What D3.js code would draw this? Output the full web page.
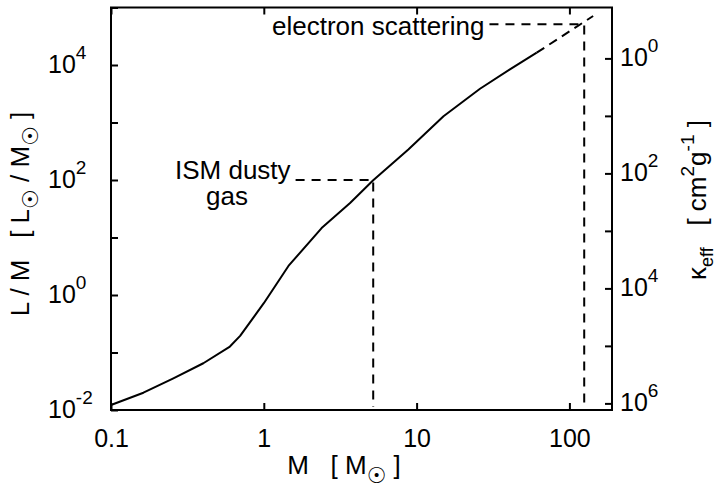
<!DOCTYPE html>
<html>
<head>
<meta charset="utf-8">
<script src="https://cdn.jsdelivr.net/npm/d3@7"></script>
<style>
body { margin: 0; background: #fff; }
svg text { font-family: "Liberation Sans", Arial, Helvetica, sans-serif; fill: #000; }
</style>
</head>
<body>
<div id="chart"></div>
<script>
// mass (M_sun) and L/M (L_sun/M_sun)
var massVals = [0.1, 0.163, 0.256, 0.402, 0.60, 0.70, 1.0, 1.45, 2.39, 3.67, 5.2, 8.83, 15.0, 26.0, 40.8, 61.1];
var lumVals  = [0.0122, 0.020, 0.0355, 0.065, 0.127, 0.195, 0.72, 3.2, 14.6, 39.9, 98.8, 339, 1288, 3864, 8375, 16370];

// dashed extension of the curve
var extMass = [61.1, 143];
var extLum  = [16370, 71100];

// marked opacity limits
var ismMass = 5.2, ismLum = 100;
var esMass = 125, esLum = 50900;

// tick values
var xTicks = [0.1, 1, 10, 100];
var yTickExp = [-2, -1, 0, 1, 2, 3, 4, 5];
var yLabelExp = [-2, 0, 2, 4];
var kTickExp = [0, 1, 2, 3, 4, 5, 6];
var kLabelExp = [0, 2, 4, 6];

// kappa = kConst / (L/M)
var kConst = 13030;

var margin = { top: 7.5, bottom: 85, left: 111, right: 106 };
var width = 718 - margin.left - margin.right;
var height = 495 - margin.top - margin.bottom;

var xScale = d3.scaleLog().domain([0.1, 190]).range([0, width]);
var yScale = d3.scaleLog().domain([1e-2, 1e5]).range([height, 0]);
var kScale = d3.scaleLog().domain([kConst / 1e-2, kConst / 1e5]).range([height, 0]);

var svg = d3.select("#chart")
    .append("svg")
    .attr("width", 718)
    .attr("height", 495)
    .append("g")
    .attr("transform", "translate(" + margin.left + "," + margin.top + ")");

//bottom axis
svg.append("g")
    .attr("transform", "translate(0," + height + ")")
    .call(d3.axisBottom(xScale).tickValues(xTicks).tickSize(-7).tickPadding(19)
        .tickFormat(function (d) { return d < 1 ? "0.1" : String(d); }))
    .call(function (g) {
        g.select(".domain").remove();
        g.selectAll("line").attr("stroke-width", 2);
        g.selectAll("text").attr("font-size", 25).attr("font-family", null);
    });

//top axis
svg.append("g")
    .call(d3.axisTop(xScale).tickValues(xTicks).tickSize(-7).tickFormat(""))
    .call(function (g) {
        g.select(".domain").remove();
        g.selectAll("line").attr("stroke-width", 2);
    });

//left axis
svg.append("g")
    .call(d3.axisLeft(yScale).tickValues(yTickExp.map(function (e) { return Math.pow(10, e); }))
        .tickSize(-7).tickFormat(""))
    .call(function (g) {
        g.select(".domain").remove();
        g.selectAll("line").attr("stroke-width", 2);
    });

//right axis
svg.append("g")
    .attr("transform", "translate(" + width + ",0)")
    .call(d3.axisRight(kScale).tickValues(kTickExp.map(function (e) { return Math.pow(10, e); }))
        .tickSize(-7).tickFormat(""))
    .call(function (g) {
        g.select(".domain").remove();
        g.selectAll("line").attr("stroke-width", 2);
    });

//frame
svg.append("rect")
    .attr("width", width)
    .attr("height", height)
    .attr("fill", "none")
    .attr("stroke", "#000")
    .attr("stroke-width", 2);

//power-of-ten labels
function powLabel(sel, x, y, e) {
    var t = sel.append("text")
        .attr("x", x)
        .attr("y", y)
        .attr("font-size", 25);
    t.append("tspan").text("10");
    t.append("tspan").attr("dy", -14).attr("font-size", 19).text(e);
}

yLabelExp.forEach(function (e) {
    powLabel(svg, 48 - margin.left, yScale(Math.pow(10, e)) + 8, e);
});
kLabelExp.forEach(function (e) {
    powLabel(svg, width + 8, kScale(Math.pow(10, e)) + 8, e);
});

//curve
var line = d3.line()
    .x(function (d) { return xScale(d[0]); })
    .y(function (d) { return yScale(d[1]); });

svg.append("path")
    .datum(d3.zip(massVals, lumVals))
    .attr("d", line)
    .attr("fill", "none")
    .attr("stroke", "#000")
    .attr("stroke-width", 2)
    .attr("stroke-linejoin", "round");

svg.append("path")
    .datum(d3.zip(extMass, extLum))
    .attr("d", line)
    .attr("fill", "none")
    .attr("stroke", "#000")
    .attr("stroke-width", 2)
    .attr("stroke-dasharray", "9,6");

//annotations
var ism1 = svg.append("text")
    .attr("x", 175 - margin.left)
    .attr("y", 179 - margin.top)
    .attr("font-size", 26)
    .text("ISM dusty");
svg.append("text")
    .attr("x", 206 - margin.left)
    .attr("y", 205 - margin.top)
    .attr("font-size", 26)
    .text("gas");

var es = svg.append("text")
    .attr("x", 272 - margin.left)
    .attr("y", 35 - margin.top)
    .attr("font-size", 26)
    .text("electron scattering");

function guide(labelNode, m, l) {
    var bb = labelNode.node().getBBox();
    var px = xScale(m), py = yScale(l);
    svg.append("path")
        .attr("d", "M" + (bb.x + bb.width + 5) + "," + py + "H" + px + "V" + (height - 3))
        .attr("fill", "none")
        .attr("stroke", "#000")
        .attr("stroke-width", 2)
        .attr("stroke-dasharray", "9,7");
}
guide(ism1, ismMass, ismLum);
guide(es, esMass, esLum);

//x-axis title
var xt = svg.append("text")
    .attr("x", 344 - margin.left)
    .attr("y", 474 - margin.top)
    .attr("font-size", 26)
    .attr("text-anchor", "middle")
    .style("white-space", "pre");
xt.append("tspan").text("M   [ M");
xt.append("tspan").attr("dy", 9).attr("font-size", 22).attr("font-family", "DejaVu Sans").text("\u2609");
xt.append("tspan").attr("dy", -9).text(" ]");

//y-axis title
var yt = svg.append("text")
    .attr("transform", "translate(" + (29 - margin.left) + "," + (214 - margin.top) + ") rotate(-90)")
    .attr("font-size", 26)
    .attr("text-anchor", "middle")
    .style("white-space", "pre");
yt.append("tspan").text("L / M   [ L");
yt.append("tspan").attr("dy", 9).attr("font-size", 22).attr("font-family", "DejaVu Sans").text("\u2609");
yt.append("tspan").attr("dy", -9).text(" / M");
yt.append("tspan").attr("dy", 9).attr("font-size", 22).attr("font-family", "DejaVu Sans").text("\u2609");
yt.append("tspan").attr("dy", -9).text(" ]");

//right title
var kt = svg.append("text")
    .attr("transform", "translate(" + (706 - margin.left) + "," + (200 - margin.top) + ") rotate(-90)")
    .attr("font-size", 26)
    .attr("text-anchor", "middle")
    .style("white-space", "pre");
kt.append("tspan").text("\u03ba");
kt.append("tspan").attr("dy", 7).attr("font-size", 18).text("eff");
kt.append("tspan").attr("dy", -7).text("   [ cm");
kt.append("tspan").attr("dy", -12).attr("font-size", 19).text("2");
kt.append("tspan").attr("dy", 12).text("g");
kt.append("tspan").attr("dy", -12).attr("font-size", 19).text("-1");
kt.append("tspan").attr("dy", 12).text(" ]");
</script>
</body>
</html>
